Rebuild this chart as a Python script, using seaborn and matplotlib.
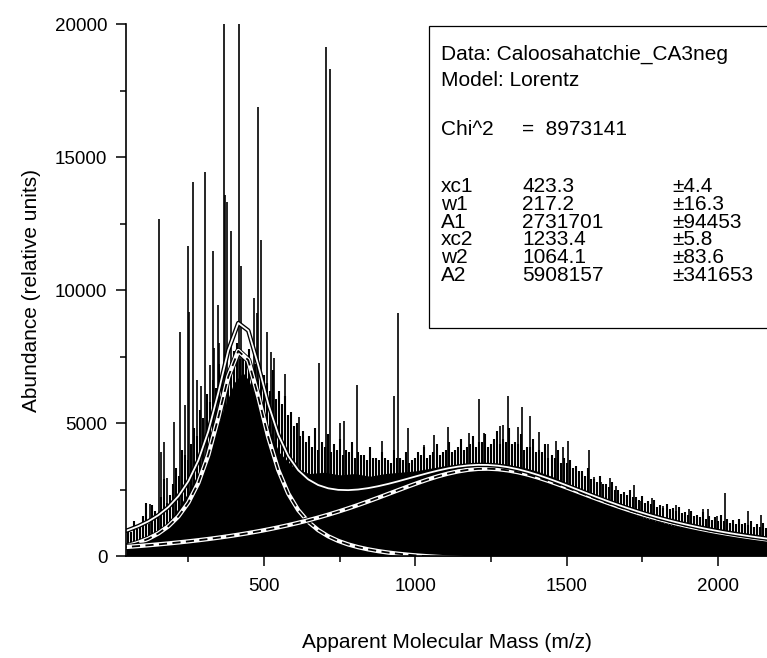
import numpy as np
import matplotlib
matplotlib.use("Agg")
import matplotlib.pyplot as plt
import seaborn as sns
from matplotlib.patches import Rectangle

# ---- data ----
# solid body of the spectrum (m/z, abundance)
body_mz = [44, 50, 100, 150, 200, 250, 300, 350, 400, 430, 450, 500, 550, 600, 650, 700, 750,
           800, 850, 900, 950, 1000, 1050, 1100, 1150, 1200, 1250, 1300, 1350, 1400, 1450,
           1500, 1550, 1600, 1650, 1700, 1750, 1800, 1850, 1900, 1950, 2000, 2050, 2100,
           2150, 2162]
body_ab = [350, 400, 600, 900, 1500, 2400, 3500, 5000, 6500, 6900, 6600, 5200, 3900, 3300,
           3100, 3150, 3050, 3100, 3000, 3100, 3150, 3200, 3300, 3400, 3450, 3500, 3500,
           3450, 3350, 3200, 3000, 2750, 2450, 2150, 1900, 1650, 1450, 1300, 1150, 1050,
           950, 850, 780, 700, 650, 640]

# dense "hair" on top of the body, every 20 m/z starting at 50
hair_start, hair_step = 50, 20
hair_ab = [1000, 1300, 1100, 2000, 1900, 1500, 2900, 2300, 3300, 4000,
           3600, 4800, 5500, 6100, 6600, 7200, 7600, 7300, 8000, 7600,
           7800, 7200, 6900, 6500, 7000, 6200, 6000, 5400, 5000, 4700,
           4500, 4800, 4300, 4600, 4200, 4400, 4000, 4300, 3900, 3800,
           4100, 3700, 3900, 3600, 4000, 3700, 3900, 3600, 3900, 4100,
           3800, 4200, 3900, 4300, 4000, 4400, 4100, 4500, 4300, 4600,
           4200, 4700, 4400, 4800, 4300, 4600, 4100, 4400, 4000, 4200,
           3800, 4000, 3700, 3600, 3400, 3200, 3300, 2900, 3000, 2700,
           2800, 2500, 2400, 2500, 2200, 2250, 2050, 2100, 1900, 1950,
           1800, 1850, 1650, 1700, 1550, 1650, 1500, 1450, 1550, 1400,
           1350, 1400, 1250, 1300, 1200, 1250]
# second row of hair, every 20 m/z starting at 60
hair2_start = 60
hair2_ab = [900, 1000, 1500, 1200, 1700, 2200, 2000, 2700, 3000, 3800,
            4200, 4500, 5200, 5800, 6300, 6900, 7000, 7700, 7400, 7500,
            7000, 6600, 6800, 6200, 5900, 5700, 5300, 4900, 4500, 4300,
            4100, 4000, 4100, 3900, 4000, 3800, 3900, 3700, 3800, 3600,
            3700, 3600, 3700, 3500, 3700, 3600, 3500, 3700, 3800, 3700,
            3900, 3800, 4000, 3900, 4100, 4000, 4200, 4100, 4300, 4100,
            4400, 4200, 4300, 4200, 4200, 4000, 4100, 3900, 3900, 3700,
            3700, 3500, 3500, 3300, 3200, 3000, 2900, 2800, 2700, 2600,
            2500, 2350, 2300, 2200, 2100, 2000, 1950, 1850, 1800, 1750,
            1700, 1600, 1550, 1500, 1450, 1400, 1350, 1300, 1300, 1250,
            1200, 1200, 1150, 1100, 1100, 1050]

# individual spikes (m/z, abundance)
spike_mz = [110, 123, 153, 161, 168, 179, 204, 222, 238, 248, 252, 265, 279, 292, 304, 322,
            332, 335, 348, 352, 367, 371, 377, 392, 417, 423, 467, 476, 479, 491, 509, 522,
            533, 569, 615, 682, 704, 718, 750, 764, 807, 889, 930, 943, 975, 1027, 1062,
            1107, 1178, 1209, 1228, 1280, 1289, 1307, 1338, 1352, 1378, 1409, 1438, 1464,
            1489, 1506, 1573, 1590, 1612, 1643, 1663, 1688, 1721, 1746, 1783, 1818, 1862,
            1903, 1950, 1967, 1998, 2024, 2098, 2141]
spike_ab = [2000, 1950, 12670, 3920, 4300, 2930, 5050, 8430, 5680, 11650, 9170, 14060, 6620,
            6390, 14440, 7180, 11470, 7820, 9440, 8000, 21000, 13570, 13310, 12220, 21000,
            10900, 9700, 9140, 16880, 11880, 8420, 7670, 7440, 6840, 5230, 7260, 19140,
            18310, 5000, 5080, 6430, 4320, 6020, 9130, 4810, 4170, 4550, 4850, 4640, 5900,
            4620, 4900, 4930, 6000, 4860, 5590, 5260, 4670, 4200, 4340, 4100, 4320, 3990,
            2980, 2800, 2930, 2630, 2290, 2670, 2050, 2180, 1880, 1920, 1770, 1770, 1770,
            1500, 2370, 1690, 1540]

# Lorentz fit parameters (from the fit report)
data_name = "Caloosahatchie_CA3neg"
model_name = "Lorentz"
chi2 = 8973141
param_names = ["xc1", "w1", "A1", "xc2", "w2", "A2"]
param_vals = [423.3, 217.2, 2731701, 1233.4, 1064.1, 5908157]
param_errs = [4.4, 16.3, 94453, 5.8, 83.6, 341653]
param_txt = ["423.3", "217.2", "2731701", "1233.4", "1064.1", "5908157"]
y0 = -250  # offset


def lorentz(x, xc, w, A):
    return (2 * A / np.pi) * w / (4 * (x - xc) ** 2 + w ** 2)


fit_x = np.arange(19, 2200, 33.0)
peak1 = y0 + lorentz(fit_x, *param_vals[0:3])
peak2 = y0 + lorentz(fit_x, *param_vals[3:6])
fit_sum = y0 + lorentz(fit_x, *param_vals[0:3]) + lorentz(fit_x, *param_vals[3:6])

# ---- plot ----
sns.set_style("ticks")
plt.rcParams["font.family"] = ["Liberation Sans", "DejaVu Sans"]
plt.rcParams["text.color"] = "black"
plt.rcParams["axes.labelcolor"] = "black"
plt.rcParams["xtick.color"] = "black"
plt.rcParams["ytick.color"] = "black"

fig = plt.figure(figsize=(7.67, 6.58), dpi=100)
ax = fig.add_axes([0.1643, 0.155, 0.8357, 0.8085])

ax.fill_between(body_mz, 0, body_ab, color="black", linewidth=0)
hair_mz = hair_start + hair_step * np.arange(len(hair_ab))
hair2_mz = hair2_start + hair_step * np.arange(len(hair2_ab))
ax.vlines(hair_mz, 0, hair_ab, color="black", linewidth=1.5)
ax.vlines(hair2_mz, 0, hair2_ab, color="black", linewidth=1.5)
ax.vlines(spike_mz, 0, spike_ab, color="black", linewidth=1.2)

# fitted peaks: white band with black edge and black dashes
for curve in [peak1, peak2]:
    sns.lineplot(x=fit_x, y=curve, ax=ax, color="black", linewidth=4.4, sort=False, estimator=None)
    sns.lineplot(x=fit_x, y=curve, ax=ax, color="white", linewidth=3.1, sort=False, estimator=None)
    ax.plot(fit_x, curve, color="black", linewidth=1.3, dashes=(4.5, 3))

# cumulative fit
sns.lineplot(x=fit_x, y=fit_sum, ax=ax, color="black", linewidth=3.2, sort=False, estimator=None)
sns.lineplot(x=fit_x, y=fit_sum, ax=ax, color="white", linewidth=1.3, sort=False, estimator=None)

ax.set_xlim(44, 2162)
ax.set_ylim(0, 20000)
ax.set_xticks([500, 1000, 1500, 2000])
ax.set_xticks([250, 750, 1250, 1750], minor=True)
ax.set_yticks([0, 5000, 10000, 15000, 20000])
ax.set_yticks([2500, 7500, 12500, 17500], minor=True)
ax.tick_params(which="major", direction="out", length=7.5, width=1.1, labelsize=13.5, pad=6)
ax.tick_params(which="minor", direction="out", length=4, width=1.1)
ax.tick_params(axis="x", which="major", pad=8)
sns.despine(ax=ax)
for s in ["left", "bottom"]:
    ax.spines[s].set_linewidth(1.2)
    ax.spines[s].set_color("black")

ax.set_xlabel("Apparent Molecular Mass (m/z)", fontsize=15)
ax.set_ylabel("Abundance (relative units)", fontsize=15)
ax.xaxis.set_label_coords(0.5, -0.145)
ax.yaxis.label.set_va("center")
ax.yaxis.set_label_coords(-0.148, 0.5)

# fit report box
ax.add_patch(Rectangle((0.4727, 0.4286), 0.53, 0.5676, transform=ax.transAxes,
                       facecolor="white", edgecolor="black", linewidth=0.9, zorder=5,
                       clip_on=False))
fs = 15
c1, c2, c3 = 0.4914, 0.6178, 0.852
ax.text(c1, 0.9323, f"Data: {data_name}", transform=ax.transAxes, fontsize=fs, zorder=6)
ax.text(c1, 0.8835, f"Model: {model_name}", transform=ax.transAxes, fontsize=fs, zorder=6)
ax.text(c1, 0.7914, "Chi^2", transform=ax.transAxes, fontsize=fs, zorder=6)
ax.text(c2, 0.7914, f"=  {chi2}", transform=ax.transAxes, fontsize=fs, zorder=6)
row_y = [0.6842, 0.651, 0.6175, 0.584, 0.5508, 0.5173]
for name, val, err, yy in zip(param_names, param_txt, param_errs, row_y):
    ax.text(c1, yy, name, transform=ax.transAxes, fontsize=fs, zorder=6)
    ax.text(c2, yy, val, transform=ax.transAxes, fontsize=fs, zorder=6)
    ax.text(c3, yy, f"\u00b1{err:g}", transform=ax.transAxes, fontsize=fs, zorder=6)

fig.savefig("out.png", dpi=100)
